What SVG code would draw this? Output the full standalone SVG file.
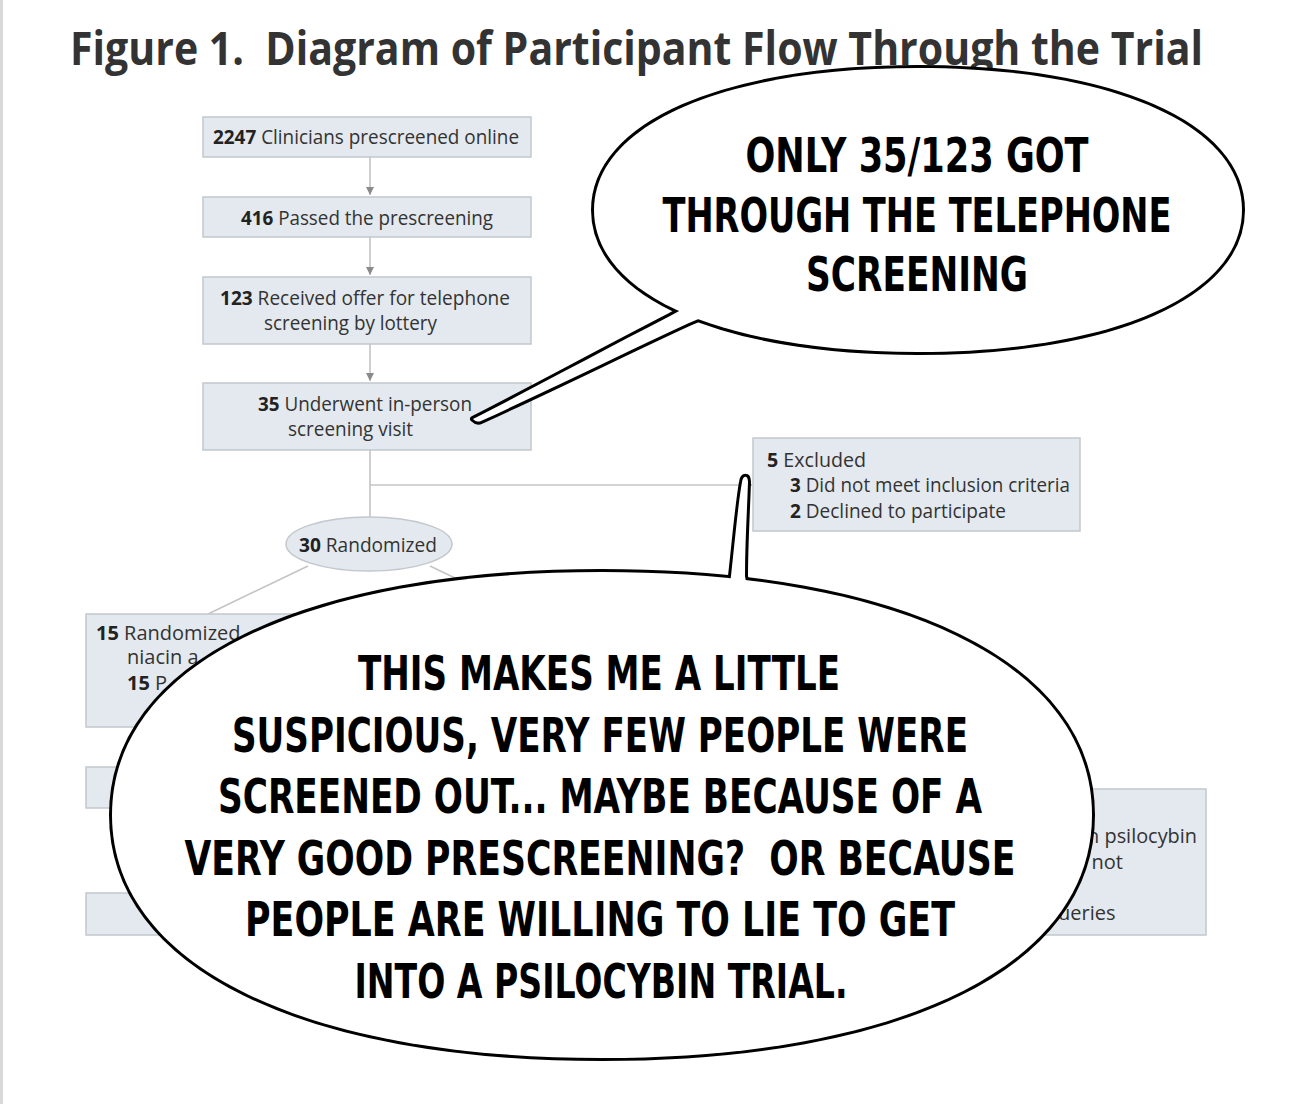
<svg xmlns="http://www.w3.org/2000/svg" width="1290" height="1104" viewBox="0 0 1290 1104">
<defs>
<style>
.box{fill:#e3e9ee;stroke:#c2c8cd;stroke-width:1.5}
.t{font-family:"Open Sans","DejaVu Sans",sans-serif;font-size:20px;fill:#333}
.b{font-weight:700;fill:#222}
.ln{stroke:#c4c4c4;stroke-width:1.6;fill:none}
.bs{fill:#fff;stroke:#000;stroke-width:6;stroke-linejoin:round}
.bf{fill:#fff;stroke:none}
.c{font-family:"DejaVu Sans Condensed","DejaVu Sans",sans-serif;font-weight:700;font-size:48px;fill:#000;text-anchor:middle}
</style>
<marker id="ah" viewBox="0 0 10 10" refX="10" refY="5" markerWidth="8" markerHeight="8" markerUnits="userSpaceOnUse" orient="auto">
<path d="M0,0 L10,5 L0,10 Z" fill="#8a8a8a"/>
</marker>
</defs>
<rect x="0" y="0" width="1290" height="1104" fill="#fff"/>
<rect x="0" y="0" width="3" height="1104" fill="#d9d9d9"/>
<text id="title" x="70" y="65" xml:space="preserve" font-family="Open Sans, DejaVu Sans, sans-serif" font-weight="700" font-size="46" fill="#333" textLength="1133" lengthAdjust="spacingAndGlyphs">Figure 1.  Diagram of Participant Flow Through the Trial</text>

<g id="connectors">
<line class="ln" x1="370" y1="157" x2="370" y2="195" marker-end="url(#ah)"/>
<line class="ln" x1="370" y1="237" x2="370" y2="275" marker-end="url(#ah)"/>
<line class="ln" x1="370" y1="344" x2="370" y2="381" marker-end="url(#ah)"/>
<line class="ln" x1="370" y1="450" x2="370" y2="518"/>
<line class="ln" x1="370" y1="485" x2="752" y2="485" marker-end="url(#ah)"/>
<line class="ln" x1="308" y1="566" x2="208" y2="614"/>
<line class="ln" x1="430" y1="566" x2="530" y2="614"/>
</g>

<g id="n1"><rect class="box" x="203" y="117" width="328" height="40"/>
<text class="t" x="213" y="144" textLength="306" lengthAdjust="spacingAndGlyphs"><tspan class="b">2247</tspan> Clinicians prescreened online</text></g>
<g id="n2"><rect class="box" x="203" y="197" width="328" height="40"/>
<text class="t" x="241" y="225" textLength="252" lengthAdjust="spacingAndGlyphs"><tspan class="b">416</tspan> Passed the prescreening</text></g>
<g id="n3"><rect class="box" x="203" y="277" width="328" height="67"/>
<text class="t" x="220" y="305" textLength="290" lengthAdjust="spacingAndGlyphs"><tspan class="b">123</tspan> Received offer for telephone</text>
<text class="t" x="264" y="330" textLength="173" lengthAdjust="spacingAndGlyphs">screening by lottery</text></g>
<g id="n4"><rect class="box" x="203" y="383" width="328" height="67"/>
<text class="t" x="258" y="411" textLength="214" lengthAdjust="spacingAndGlyphs"><tspan class="b">35</tspan> Underwent in-person</text>
<text class="t" x="288" y="436" textLength="125" lengthAdjust="spacingAndGlyphs">screening visit</text></g>
<g id="n5"><rect class="box" x="753" y="438" width="327" height="93"/>
<text class="t" x="767" y="467" textLength="99" lengthAdjust="spacingAndGlyphs"><tspan class="b">5</tspan> Excluded</text>
<text class="t" x="790" y="492" textLength="280" lengthAdjust="spacingAndGlyphs"><tspan class="b">3</tspan> Did not meet inclusion criteria</text>
<text class="t" x="790" y="518" textLength="216" lengthAdjust="spacingAndGlyphs"><tspan class="b">2</tspan> Declined to participate</text></g>
<g id="n6"><ellipse class="box" cx="369" cy="544" rx="83" ry="27"/>
<text class="t" x="299" y="552" textLength="138" lengthAdjust="spacingAndGlyphs"><tspan class="b">30</tspan> Randomized</text></g>
<g id="n7"><rect class="box" x="86" y="614" width="330" height="113"/>
<text class="t" x="96" y="640"><tspan class="b">15</tspan> Randomized</text>
<text class="t" x="127" y="664">niacin a</text>
<text class="t" x="127" y="690"><tspan class="b">15</tspan> P</text></g>
<g id="n8"><rect class="box" x="86" y="767" width="330" height="41"/></g>
<g id="n9"><rect class="box" x="86" y="893" width="330" height="42"/></g>
<g id="n10"><rect class="box" x="880" y="789" width="326" height="146"/>
<text class="t" x="1080" y="843" textLength="117" lengthAdjust="spacingAndGlyphs">th psilocybin</text>
<text class="t" x="1074" y="869">d not</text>
<text class="t" x="1058" y="920">ueries</text></g>

<g id="bubble1">
<path class="bs" d="M594,210 C594,124.8 723.6,68 918,68 C1112.4,68 1242,124.8 1242,210 C1242,295.2 1112.4,352 918,352 C723.6,352 594,295.2 594,210 Z"/>
<path class="bs" d="M703,298 L670,316 C600,352 530,390 473,419 C476,422 479,422 481,421 C560,385 630,350 689,323 L720,310 Z"/>
<path class="bf" d="M594,210 C594,124.8 723.6,68 918,68 C1112.4,68 1242,124.8 1242,210 C1242,295.2 1112.4,352 918,352 C723.6,352 594,295.2 594,210 Z"/>
<path class="bf" d="M703,298 L670,316 C600,352 530,390 473,419 C476,422 479,422 481,421 C560,385 630,350 689,323 L720,310 Z"/>
<text class="c" x="917" y="172" textLength="343" lengthAdjust="spacingAndGlyphs">ONLY 35/123 GOT</text>
<text class="c" x="917" y="232" textLength="509" lengthAdjust="spacingAndGlyphs">THROUGH THE TELEPHONE</text>
<text class="c" x="917" y="291" textLength="222" lengthAdjust="spacingAndGlyphs">SCREENING</text>
</g>

<g id="bubble2">
<path class="bs" d="M112,815 C112,664 304,572 602,572 C900,572 1092,664 1092,815 C1092,966 900,1058 602,1058 C304,1058 112,966 112,815 Z"/>
<path class="bs" d="M727,600 L731,576 C735,540 738,505 742,482 C743,475 748,475 748,482 C747,512 745,545 745,576 L749,600 Z"/>
<path class="bf" d="M112,815 C112,664 304,572 602,572 C900,572 1092,664 1092,815 C1092,966 900,1058 602,1058 C304,1058 112,966 112,815 Z"/>
<path class="bf" d="M727,600 L731,576 C735,540 738,505 742,482 C743,475 748,475 748,482 C747,512 745,545 745,576 L749,600 Z"/>
<text class="c" x="599" y="690" textLength="482" lengthAdjust="spacingAndGlyphs">THIS MAKES ME A LITTLE</text>
<text class="c" x="600" y="752" textLength="736" lengthAdjust="spacingAndGlyphs">SUSPICIOUS, VERY FEW PEOPLE WERE</text>
<text class="c" x="600" y="813" textLength="764" lengthAdjust="spacingAndGlyphs">SCREENED OUT... MAYBE BECAUSE OF A</text>
<text class="c" x="600" y="875" xml:space="preserve" textLength="831" lengthAdjust="spacingAndGlyphs">VERY GOOD PRESCREENING?  OR BECAUSE</text>
<text class="c" x="600" y="936" textLength="710" lengthAdjust="spacingAndGlyphs">PEOPLE ARE WILLING TO LIE TO GET</text>
<text class="c" x="601" y="998" textLength="493" lengthAdjust="spacingAndGlyphs">INTO A PSILOCYBIN TRIAL.</text>
</g>
</svg>
